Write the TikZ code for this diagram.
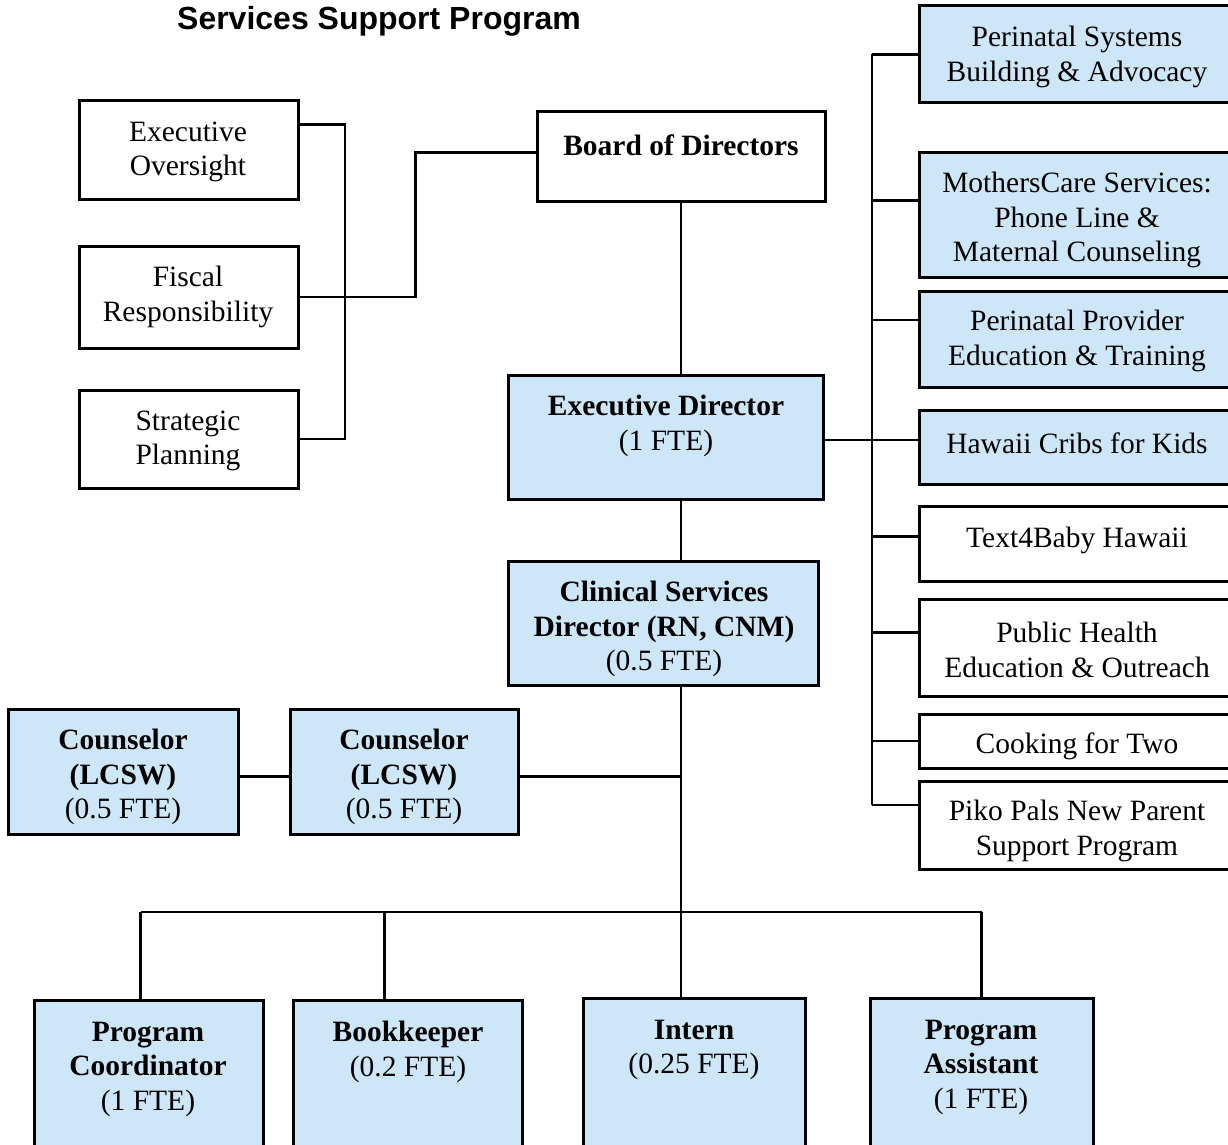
\documentclass[tikz,border=0pt]{standalone}
\usepackage{fontspec}
\setmainfont{Liberation Serif}
\newfontfamily\titlefont{Liberation Sans}
\usetikzlibrary{calc}
\definecolor{boxblue}{RGB}{205,230,248}
\tikzset{
  obox/.style={draw, line width=3pt, rectangle, inner sep=0pt, fill=white},
  bbox/.style={obox, fill=boxblue},
  txt/.style={align=center, inner sep=0pt, yshift=-2pt, font=\fontsize{29.5}{34.5}\selectfont},
  btxt/.style={txt, font=\fontsize{29.5}{34.5}\selectfont\bfseries},
  conn/.style={line width=2.6pt}
}
\begin{document}
\begin{tikzpicture}[x=1pt,y=-1pt]
\useasboundingbox (0,0) rectangle (1228,1145);
\clip (0,0) rectangle (1228,1145);
\fill[white] (0,0) rectangle (1228,1145);

% title
\node[font=\titlefont\fontsize{32}{36}\selectfont\bfseries, inner sep=0pt] (title) at (379,21) {Services Support Program};

% left boxes
\node[obox, minimum width=219pt, minimum height=98pt] (eo) at (188.5,150) {};
\node[obox, minimum width=219pt, minimum height=102pt] (fr) at (188.5,297) {};
\node[obox, minimum width=219pt, minimum height=98pt] (sp) at (188.5,439) {};
\node[txt] (eot) at (188,150) {Executive\\Oversight};
\node[txt] (frt) at (188,295) {Fiscal\\Responsibility};
\node[txt] (spt) at (188,439) {Strategic\\Planning};

% central column
\node[obox, minimum width=288pt, minimum height=89pt] (bd) at (681,156.5) {};
\node[btxt] (bdt) at (681,143) {Board of Directors};
\node[bbox, minimum width=315pt, minimum height=124pt] (ed) at (665.5,437) {};
\node[btxt] (edt) at (666,424) {Executive Director\\\mdseries(1 FTE)};
\node[bbox, minimum width=310pt, minimum height=124pt] (csd) at (663,623) {};
\node[btxt] (csdt) at (664,627) {Clinical Services\\Director (RN, CNM)\\\mdseries(0.5 FTE)};

% counselors
\node[bbox, minimum width=230pt, minimum height=125pt] (c1) at (123,771.5) {};
\node[bbox, minimum width=228pt, minimum height=125pt] (c2) at (404,771.5) {};
\node[btxt] (c1t) at (123,775) {Counselor\\(LCSW)\\\mdseries(0.5 FTE)};
\node[btxt] (c2t) at (404,775) {Counselor\\(LCSW)\\\mdseries(0.5 FTE)};

% bottom row
\node[bbox, minimum width=229pt, minimum height=160pt] (pc) at (148.5,1080) {};
\node[bbox, minimum width=229pt, minimum height=160pt] (bk) at (407.5,1080) {};
\node[bbox, minimum width=222pt, minimum height=162pt] (in) at (694,1079) {};
\node[bbox, minimum width=223pt, minimum height=162pt] (pa) at (981.5,1079) {};
\node[btxt] (pct) at (148,1067) {Program\\Coordinator\\\mdseries(1 FTE)};
\node[btxt] (bkt) at (408,1050) {Bookkeeper\\\mdseries(0.2 FTE)};
\node[btxt] (int) at (694,1048) {Intern\\\mdseries(0.25 FTE)};
\node[btxt] (pat) at (981,1065) {Program\\Assistant\\\mdseries(1 FTE)};

% right column
\node[bbox, minimum width=331pt, minimum height=97pt] (r1) at (1084.5,54.5) {};
\node[bbox, minimum width=331pt, minimum height=125pt] (r2) at (1084.5,214.5) {};
\node[bbox, minimum width=331pt, minimum height=96pt] (r3) at (1084.5,339) {};
\node[bbox, minimum width=331pt, minimum height=74pt] (r4) at (1084.5,447) {};
\node[obox, minimum width=331pt, minimum height=75pt] (r5) at (1084.5,543.5) {};
\node[obox, minimum width=331pt, minimum height=97pt] (r6) at (1084.5,647.5) {};
\node[obox, minimum width=331pt, minimum height=54pt] (r7) at (1084.5,741) {};
\node[obox, minimum width=331pt, minimum height=88pt] (r8) at (1084.5,825) {};
\node[txt] (r1t) at (1077,55) {Perinatal Systems\\Building \& Advocacy};
\node[txt] (r2t) at (1077,218) {MothersCare Services:\\Phone Line \&\\Maternal Counseling};
\node[txt] (r3t) at (1077,339) {Perinatal Provider\\Education \& Training};
\node[txt] (r4t) at (1077,441) {Hawaii Cribs for Kids};
\node[txt] (r5t) at (1077,538) {Text4Baby Hawaii};
\node[txt] (r6t) at (1077,648) {Public Health\\Education \& Outreach};
\node[txt] (r7t) at (1077,744) {Cooking for Two};
\node[txt] (r8t) at (1077,829) {Piko Pals New Parent\\Support Program};

% helper coordinates
\coordinate (lb) at (345,0);
\coordinate (spine) at (681,0);
\coordinate (bus) at (0,912);
\coordinate (rv) at (872,0);
\coordinate (eoc) at ($(eo.north east)!.25!(eo.south east)$);
\coordinate (bdc) at ($(bd.west)+(0,-4)$);
\coordinate (frk) at ($(bd.west)+(-120,-4)$);
\coordinate (c1c) at ($(c1.east)+(0,5)$);
\coordinate (c2w) at ($(c2.west)+(0,5)$);
\coordinate (c2e) at ($(c2.east)+(0,5)$);
\coordinate (pcd) at ($(pc.north)+(-8,0)$);
\coordinate (bkd) at ($(bk.north west)!.4!(bk.north east)$);
\coordinate (ede) at ($(ed.east)+(0,3)$);
\coordinate (s2) at ($(r2.north west)!.39!(r2.south west)$);
\coordinate (s3) at ($(r3.north west)!.31!(r3.south west)$);
\coordinate (s4) at ($(r4.north west)!.40!(r4.south west)$);
\coordinate (s5) at ($(r5.north west)!.41!(r5.south west)$);
\coordinate (s6) at ($(r6.north west)!.35!(r6.south west)$);
\coordinate (s8) at ($(r8.north west)!.28!(r8.south west)$);

% left bracket
\draw[conn] (eoc) -| (lb |- sp.east) -- (sp.east);
\draw[conn] (fr.east) -| (frk) -- (bdc);

% central spine
\draw[conn] (bd.south) -- (bd.south |- ed.north);
\draw[conn] (spine |- ed.south) -- (spine |- csd.north);
\draw[conn] (spine |- csd.south) -- (spine |- bus);
\draw[conn] (c1c) -- (c2w);
\draw[conn] (c2e) -- (c2e -| spine);

% bottom bus
\draw[conn] (pcd |- bus) -- (pa.north |- bus);
\draw[conn] (pcd |- bus) -- (pcd);
\draw[conn] (bkd |- bus) -- (bkd);
\draw[conn] (spine |- bus) -- (spine |- in.north);
\draw[conn] (pa.north |- bus) -- (pa.north);

% right bracket
\draw[conn] (rv |- r1.west) -- (rv |- s8);
\draw[conn] (ede) -- (ede -| s4);
\draw[conn] (rv |- r1.west) -- (r1.west);
\draw[conn] (rv |- s2) -- (s2);
\draw[conn] (rv |- s3) -- (s3);
\draw[conn] (rv |- s5) -- (s5);
\draw[conn] (rv |- s6) -- (s6);
\draw[conn] (rv |- r7.west) -- (r7.west);
\draw[conn] (rv |- s8) -- (s8);
\end{tikzpicture}
\end{document}
